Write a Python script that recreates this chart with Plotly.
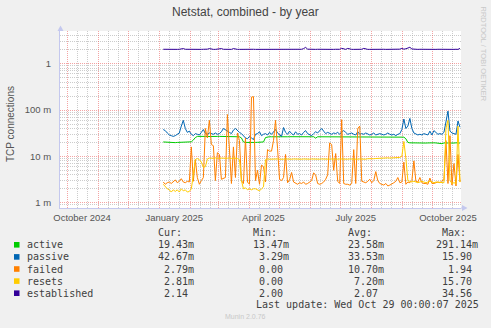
import numpy as np
import pandas as pd
import plotly.graph_objects as go

# ---- data: daily-averaged samples every two days (values in milli-connections) ----
dates = pd.date_range("2025-01-05", periods=149, freq="2D")

active_m = [
    20.5, 20.3, 20.2, 20.0, 20.1, 20.0, 19.8, 20.0, 20.1, 20.0,
    20.2, 20.0, 20.1, 20.0, 20.6, 22.5, 25.5, 27.0, 27.2, 27.0,
    27.1, 27.0, 26.8, 27.0, 27.1, 27.0, 26.9, 27.0, 27.0, 26.9,
    27.0, 27.1, 27.0, 26.8, 27.0, 26.9, 27.0, 27.0, 26.5, 25.0,
    20.5, 20.0, 19.9, 20.0, 20.0, 19.8, 20.0, 20.1, 20.0, 19.9,
    20.5, 25.5, 26.5, 26.6, 26.5, 26.4, 26.5, 26.6, 26.5, 26.5,
    26.4, 26.5, 26.5, 26.6, 26.5, 26.5, 26.4, 26.5, 26.5, 26.5,
    26.6, 26.5, 26.4, 26.5, 26.5, 26.6, 24.8, 26.5, 26.5, 26.4,
    26.5, 26.5, 26.6, 26.5, 26.4, 26.5, 26.5, 26.5, 26.6, 26.5,
    26.5, 26.4, 26.5, 26.5, 26.6, 26.5, 26.5, 26.4, 26.5, 26.5,
    26.5, 26.6, 26.5, 26.5, 26.4, 26.5, 26.5, 26.6, 26.5, 26.5,
    26.4, 26.5, 26.5, 26.6, 26.5, 26.5, 26.4, 26.5, 26.5, 26.3,
    26.0, 24.0, 20.0, 19.6, 19.5, 19.4, 19.5, 19.6, 19.5, 19.4,
    19.5, 19.4, 19.5, 19.3, 19.5, 19.6, 19.5, 19.4, 19.5, 18.8,
    19.5, 19.4, 19.5, 19.3, 19.5, 19.4, 19.6, 19.5, 19.43,
]

passive_m = [
    38, 36, 32, 29, 28, 27, 28, 30, 32, 45,
    60, 40, 33, 35, 30, 28, 31, 30, 29, 33,
    38, 31, 30, 32, 31, 30, 32, 30, 31, 34,
    40, 38, 36, 33, 31, 37, 40, 36, 33, 31,
    28, 25, 24, 27, 25, 23, 30, 31, 34, 28,
    30, 31, 29, 33, 30, 34, 38, 32, 30, 27,
    42, 33, 30, 35, 31, 29, 34, 30, 31, 29,
    33, 36, 31, 30, 28, 31, 34, 32, 36, 40,
    35, 31, 33, 31, 30, 32, 31, 33, 30, 34,
    36, 33, 30, 31, 32, 30, 29, 34, 30, 31,
    30, 32, 30, 29, 30, 32, 29, 30, 31, 30,
    29, 30, 32, 30, 29, 30, 28, 30, 31, 38,
    64, 40, 45, 66, 40, 32, 30, 29, 30, 29,
    31, 30, 29, 35, 29, 36, 32, 30, 31, 30,
    33, 60, 95, 35, 32, 31, 30, 58, 42.67,
]

failed_m = [
    2.8, 2.5, 2.7, 2.8, 2.6, 2.8, 3.1, 2.7, 2.9, 3.3,
    2.8, 2.7, 2.9, 2.8, 16.0, 2.9, 8.5, 3.5, 2.5, 3.0,
    3.5, 40.0, 25.0, 60.0, 18.0, 17.0, 3.0, 12.0, 11.0, 3.2,
    3.4, 3.5, 80.0, 16.0, 2.6, 16.0, 3.5, 32.0, 22.0, 3.0,
    2.6, 25.0, 2.8, 2.5, 190.0, 195.0, 3.0, 5.0, 2.5, 6.5,
    6.0, 2.8, 14.0, 13.0, 13.0, 22.0, 60.0, 15.0, 3.2, 3.0,
    3.5, 11.0, 2.7, 3.1, 4.5, 2.8, 2.6, 2.5, 2.7, 2.6,
    2.8, 2.5, 2.6, 2.8, 3.0, 4.4, 4.0, 2.6, 2.5, 2.6,
    2.8, 3.2, 4.0, 19.5, 18.0, 5.0, 11.5, 2.9, 2.6, 62.0,
    2.6, 2.5, 2.5, 2.4, 2.6, 14.0, 2.6, 40.0, 45.0, 2.9,
    2.8, 2.7, 2.9, 3.2, 2.7, 3.0, 4.7, 3.0, 2.6, 2.5,
    2.4, 2.6, 2.3, 2.4, 2.6, 2.7, 2.9, 3.5, 2.7, 2.8,
    7.5, 2.5, 2.8, 2.7, 3.0, 8.0, 2.9, 2.8, 3.5, 2.7,
    2.6, 2.6, 2.5, 3.4, 2.6, 2.6, 2.7, 2.8, 2.7, 3.0,
    3.1, 22.0, 2.6, 28.0, 2.4, 7.0, 2.3, 11.0, 2.79,
]

resets_m = [
    2.5, 2.2, 2.0, 1.9, 1.7, 1.9, 1.75, 1.9, 1.7, 2.0,
    1.8, 1.9, 1.7, 1.75, 2.0, 4.0, 8.5, 9.0, 8.5, 7.5,
    5.8, 6.0, 8.8, 9.2, 9.0, 9.1, 9.3, 9.0, 9.2, 9.1,
    9.0, 9.2, 9.1, 9.3, 9.0, 9.2, 9.1, 9.0, 8.5, 3.0,
    2.0, 2.1, 1.9, 2.0, 1.9, 2.0, 2.0, 1.9, 1.8, 2.0,
    2.2, 8.5, 8.8, 8.7, 8.8, 8.6, 8.7, 8.8, 8.7, 8.6,
    8.7, 8.8, 8.7, 8.6, 8.7, 8.8, 8.7, 8.7, 8.6, 8.7,
    8.8, 8.7, 8.6, 8.7, 8.8, 8.7, 8.7, 8.6, 8.7, 8.8,
    8.7, 8.7, 8.6, 8.7, 8.8, 8.7, 8.6, 8.7, 8.8, 8.7,
    8.7, 8.6, 8.7, 8.8, 8.7, 8.7, 8.6, 8.7, 8.8, 8.7,
    8.8, 8.7, 8.9, 8.8, 9.0, 8.9, 9.0, 9.1, 9.0, 9.2,
    9.1, 9.2, 9.3, 9.2, 9.3, 9.4, 9.3, 9.4, 9.5, 10.0,
    21.0, 9.0, 3.0, 2.9, 2.8, 2.9, 2.8, 2.7, 2.8, 2.9,
    2.8, 2.7, 2.8, 2.9, 2.8, 2.7, 2.8, 2.8, 2.7, 2.8,
    2.7, 40.0, 60.0, 3.0, 2.6, 2.7, 2.6, 45.0, 2.81,
]

# established connections (plain units)
established = [
    2.05, 2.04, 2.04, 2.05, 2.04, 2.04, 2.05, 2.04, 2.05, 2.10,
    2.12, 2.05, 2.04, 2.04, 2.05, 2.04, 2.04, 2.05, 2.04, 2.04,
    2.05, 2.04, 2.06, 2.12, 2.05, 2.04, 2.04, 2.05, 2.04, 2.12,
    2.05, 2.04, 2.04, 2.05, 2.04, 2.12, 2.05, 2.04, 2.04, 2.05,
    2.04, 2.04, 2.05, 2.04, 2.04, 2.05, 2.04, 2.04, 2.05, 2.04,
    2.04, 2.05, 2.04, 2.04, 2.05, 2.04, 2.04, 2.05, 2.04, 2.04,
    2.05, 2.04, 2.04, 2.05, 2.04, 2.04, 2.05, 2.04, 2.04, 2.05,
    2.12, 2.25, 2.06, 2.04, 2.05, 2.04, 2.04, 2.05, 2.04, 2.04,
    2.05, 2.04, 2.04, 2.05, 2.04, 2.04, 2.05, 2.04, 2.05, 2.15,
    2.06, 2.04, 2.14, 2.05, 2.04, 2.04, 2.05, 2.04, 2.04, 2.05,
    2.14, 2.05, 2.04, 2.04, 2.05, 2.04, 2.04, 2.05, 2.04, 2.04,
    2.05, 2.04, 2.04, 2.05, 2.04, 2.04, 2.05, 2.04, 2.06, 2.14,
    2.06, 2.10, 2.16, 2.26, 2.08, 2.05, 2.04, 2.04, 2.05, 2.04,
    2.04, 2.05, 2.04, 2.04, 2.05, 2.04, 2.04, 2.05, 2.04, 2.04,
    2.05, 2.04, 2.04, 2.05, 2.04, 2.04, 2.05, 2.04, 2.14,
]

names = ["active", "passive", "failed", "resets", "established"]
colors = ["#00CC00", "#0066B3", "#FF8000", "#FFCC00", "#330099"]
values = [np.array(active_m) / 1000, np.array(passive_m) / 1000,
          np.array(failed_m) / 1000, np.array(resets_m) / 1000,
          np.array(established)]

cur = ["19.43m", "42.67m", " 2.79m", " 2.81m", " 2.14 "]
mins = ["13.47m", " 3.29m", " 0.00 ", " 0.00 ", " 2.00 "]
avgs = ["23.58m", "33.53m", "10.70m", " 7.20m", " 2.07 "]
maxs = ["291.14m", " 15.90 ", "  1.94 ", " 15.70 ", " 34.56 "]

y_tickvals = [0.001, 0.01, 0.1, 1]
y_ticktext = ["1 m", "10 m", "100 m", "1"]
x_labels = ["October 2024", "January 2025", "April 2025", "July 2025", "October 2025"]
x_label_pos = ["2024-10-16", "2025-01-16", "2025-04-15", "2025-07-16", "2025-10-16"]

# ---- layout geometry (pixels) ----
W, H = 491, 328
PL, PR, PT, PB = 60, 461, 31, 208


def px_x(x):
    return (x - PL) / (PR - PL)


def px_y(y):
    return (PB - y) / (PB - PT)


BG = "#F0F0F0"
AXIS = "#C4C8EE"
MAJOR = "rgba(235,90,90,0.55)"
MINOR = "rgba(170,170,170,0.6)"
TXT = "#555555"
SANS = "Liberation Sans, Arial, sans-serif"
MONO = "DejaVu Sans Mono, monospace"

fig = go.Figure()
for i, (name, vals, color) in enumerate(zip(names, values, colors)):
    fig.add_trace(go.Scatter(
        x=dates, y=vals, mode="lines", name=name,
        line=dict(color=color, width=1),
        xaxis="x2" if name == "established" else "x",
        showlegend=False, hoverinfo="skip",
    ))

month_starts = pd.date_range("2024-10-01", "2025-10-01", freq="MS")
minor_days = [d + pd.Timedelta(days=k) for d in pd.date_range("2024-09-01", "2025-10-01", freq="MS")
              for k in (10, 20)]
minor_y = [m * 10.0 ** e for e in range(-4, 1) for m in range(2, 10)]

x_range = ["2024-09-24", "2025-10-29"]

fig.update_layout(
    width=W, height=H,
    margin=dict(l=PL, r=W - PR, t=PT, b=H - PB, pad=0),
    paper_bgcolor=BG, plot_bgcolor="white",
    showlegend=False,
    xaxis=dict(
        type="date", range=x_range,
        tickmode="array", tickvals=list(month_starts), showticklabels=False,
        showgrid=True, gridcolor=MAJOR, griddash="1px,1px", gridwidth=1,
        minor=dict(tickmode="array", tickvals=minor_days, showgrid=True,
                   gridcolor=MINOR, griddash="1px,1px", gridwidth=1),
        showline=True, linecolor=AXIS, linewidth=1,
        zeroline=False, ticks="",
    ),
    xaxis2=dict(
        type="date", overlaying="x", matches="x", anchor="y", side="bottom",
        tickmode="array", tickvals=x_label_pos, ticktext=x_labels,
        showgrid=False, zeroline=False, showline=False,
        ticks="outside", ticklen=1, tickcolor="rgba(0,0,0,0)",
        tickfont=dict(family=SANS, size=9.5, color=TXT),
    ),
    yaxis=dict(
        type="log", range=[-3.114, 0.706],
        tickmode="array", tickvals=y_tickvals, ticktext=y_ticktext,
        showgrid=True, gridcolor=MAJOR, griddash="1px,1px", gridwidth=1,
        minor=dict(tickmode="array", tickvals=minor_y, showgrid=True,
                   gridcolor=MINOR, griddash="1px,1px", gridwidth=1),
        showline=True, linecolor=AXIS, linewidth=1,
        zeroline=False, ticks="outside", ticklen=6, tickcolor="rgba(0,0,0,0)",
        tickfont=dict(family=SANS, size=9.5, color=TXT),
    ),
)

shapes = [
    # axis arrow heads
    dict(type="path", xref="paper", yref="paper", line=dict(width=0), fillcolor=AXIS,
         path=f"M {px_x(60.5)},{px_y(25.5)} L {px_x(57.5)},{px_y(31)} L {px_x(63.5)},{px_y(31)} Z"),
    dict(type="line", xref="paper", yref="paper", line=dict(color=AXIS, width=1),
         x0=px_x(PR), x1=px_x(462), y0=0, y1=0),
    dict(type="path", xref="paper", yref="paper", line=dict(width=0), fillcolor=AXIS,
         path=f"M {px_x(467.5)},{px_y(208)} L {px_x(462)},{px_y(205)} L {px_x(462)},{px_y(211)} Z"),
]

annotations = [
    dict(text="Netstat, combined - by year", x=px_x(245.5), y=px_y(12),
         font=dict(family=SANS, size=12, color="#444444")),
    dict(text="TCP connections", x=px_x(11), y=px_y(124), textangle=-90,
         font=dict(family=SANS, size=10, color=TXT)),
    dict(text="RRDTOOL / TOBI OETIKER", x=px_x(483.5), y=px_y(54), textangle=90,
         font=dict(family=SANS, size=7.5, color="#C8C8C8")),
]

MONO_COLOR = "#404040"
HEAD_Y = 232.8
ROW0, STEP = 244.8, 12.1
for label, xpos in [("Cur:", 157), ("Min:", 251.7), ("Avg:", 346.7), ("Max:", 440.7)]:
    annotations.append(dict(text=label, x=px_x(xpos), y=px_y(HEAD_Y), xanchor="left",
                            font=dict(family=MONO, size=10, color=MONO_COLOR)))

for i, name in enumerate(names):
    yc = ROW0 + STEP * i
    shapes.append(dict(type="rect", xref="paper", yref="paper", line=dict(width=0),
                       fillcolor=colors[i], x0=px_x(14), x1=px_x(19.5),
                       y0=px_y(yc - 2.8), y1=px_y(yc + 2.8)))
    annotations.append(dict(text=name, x=px_x(26.3), y=px_y(yc), xanchor="left",
                            font=dict(family=MONO, size=10, color=MONO_COLOR)))
    for col, xpos in [(cur, 157), (mins, 251.7), (avgs, 346.7), (maxs, 435)]:
        annotations.append(dict(text=col[i].replace(" ", "\u00a0"), x=px_x(xpos), y=px_y(yc),
                                xanchor="left",
                                font=dict(family=MONO, size=10, color=MONO_COLOR)))

annotations.append(dict(text="Last update: Wed Oct 29 00:00:07 2025", x=px_x(255), y=px_y(304.8),
                        xanchor="left", font=dict(family=MONO, size=10, color=MONO_COLOR)))
annotations.append(dict(text="Munin 2.0.76", x=px_x(245), y=px_y(316.7),
                        font=dict(family=SANS, size=7, color="#C8C8C8")))

for a in annotations:
    a.setdefault("xref", "paper")
    a.setdefault("yref", "paper")
    a.setdefault("showarrow", False)
    a.setdefault("xanchor", "center")
    a.setdefault("yanchor", "middle")
    a["borderpad"] = 0

fig.update_layout(shapes=shapes, annotations=annotations)

fig.write_html("out.html")
